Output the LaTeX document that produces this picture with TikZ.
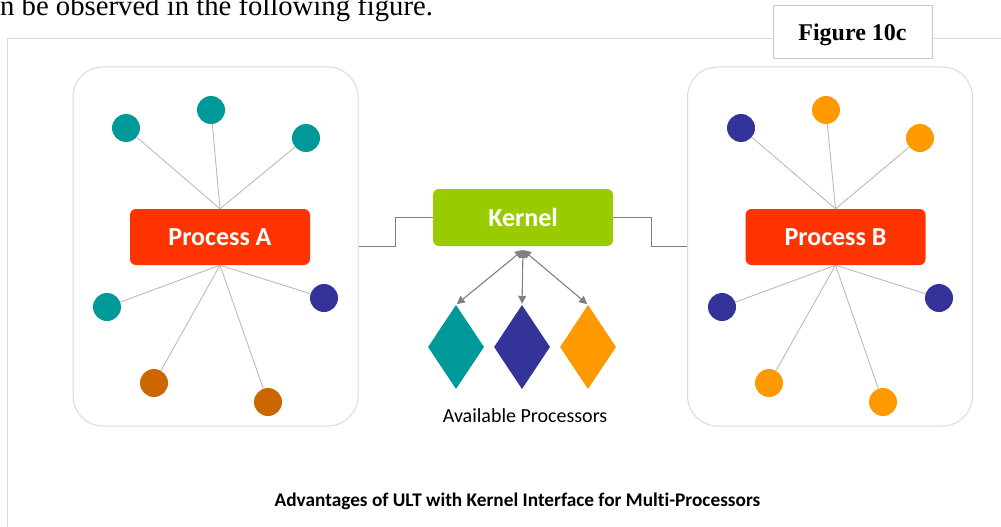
\documentclass[tikz,border=0pt]{standalone}
\usepackage{fontspec}
\setmainfont{Liberation Serif}
\newfontfamily\calib[Ligatures=NoCommon]{Carlito}
\usetikzlibrary{shapes.geometric,arrows.meta}
\definecolor{tealc}{HTML}{009999}
\definecolor{bluec}{HTML}{333399}
\definecolor{brownc}{HTML}{CC6600}
\definecolor{orangec}{HTML}{FF9900}
\definecolor{procred}{HTML}{FF3300}
\definecolor{kgreen}{HTML}{99CC00}
\definecolor{framegray}{HTML}{DADADA}
\definecolor{spokegray}{HTML}{BBBBBB}
\definecolor{linkgray}{HTML}{808080}
\tikzset{
  thread/.style={circle, inner sep=0pt, minimum size=28pt},
  spoke/.style={draw=spokegray, line width=0.9pt},
  container/.style={draw=framegray, line width=1pt, rounded corners=30pt, minimum width=285pt, minimum height=359pt},
  procbox/.style={fill=procred, rounded corners=6pt, minimum width=180pt, minimum height=56pt, text=white, font=\calib\fontsize{26}{30}\selectfont\bfseries},
  cpu/.style={diamond, inner sep=0pt, minimum width=56pt, minimum height=84pt},
  link/.style={draw=linkgray, line width=1.1pt},
  dispatch/.style={draw=linkgray, line width=1.1pt, {Triangle[length=8pt,width=8pt]}-{Triangle[length=8pt,width=8pt]}, color=linkgray}
}
\begin{document}
\begin{tikzpicture}[x=1pt,y=-1pt]
\useasboundingbox (0,0) rectangle (1001,527);
\clip (0,0) rectangle (1001,527);

% running text above the figure
\node[anchor=base west, inner sep=0pt, font=\fontsize{28.7}{32}\selectfont] (prose) at (0,16) {n be observed in the following figure.};

% frame and figure tag
\node[draw=framegray!80!gray, line width=1pt, minimum width=159pt, minimum height=53pt, inner sep=0pt] (tag) at (852.5,32.5) {};
\node[anchor=base, inner sep=0pt, font=\fontsize{24}{28}\selectfont\bfseries] (tagtext) at (852.5,41) {Figure 10c};
\coordinate (fbl) at (7,527);
\coordinate (ftl) at (7,39);
\coordinate (ftr) at (1001,39);
\draw[framegray, line width=1pt] (fbl) -- (ftl) -- (ftl -| tag.west);
\draw[framegray, line width=1pt] (ftl -| tag.east) -- (ftr);

% process containers
\node[container] (contA) at (215.5,246.5) {};
\node[container] (contB) at (830,246.5) {};

% processes
\node[procbox] (pa) at (220,237) {Process A};
\node[procbox] (pb) at (835.5,237) {Process B};

% kernel
\node[fill=kgreen, rounded corners=6pt, minimum width=180pt, minimum height=57pt, text=white,
      font=\calib\fontsize{26}{30}\selectfont\bfseries] (kern) at (523,217.5) {Kernel};

% links between processes and kernel
\draw[link] (contA.east) -- ++(37,0) |- (kern.west);
\draw[link] (kern.east) -- ++(38,0) |- (contB.west);

% user-level threads of process A
\node[thread, fill=tealc] (a1) at (126,128) {};
\node[thread, fill=tealc] (a2) at (211,110) {};
\node[thread, fill=tealc] (a3) at (306,138) {};
\node[thread, fill=tealc] (a4) at (107,307) {};
\node[thread, fill=bluec] (a5) at (324,298) {};
\node[thread, fill=brownc] (a6) at (154,383) {};
\node[thread, fill=brownc] (a7) at (268,402) {};
\foreach \t in {a1,a2,a3} \draw[spoke] (pa.north) -- (\t);
\foreach \t in {a4,a5,a6,a7} \draw[spoke] (pa.south) -- (\t);

% user-level threads of process B
\node[thread, fill=bluec] (b1) at (741,128) {};
\node[thread, fill=orangec] (b2) at (826,110) {};
\node[thread, fill=orangec] (b3) at (920,138) {};
\node[thread, fill=bluec] (b4) at (722,307) {};
\node[thread, fill=bluec] (b5) at (939,298) {};
\node[thread, fill=orangec] (b6) at (769,383) {};
\node[thread, fill=orangec] (b7) at (883,402) {};
\foreach \t in {b1,b2,b3} \draw[spoke] (pb.north) -- (\t);
\foreach \t in {b4,b5,b6,b7} \draw[spoke] (pb.south) -- (\t);

% processors
\node[cpu, fill=tealc] (c1) at (456,347) {};
\node[cpu, fill=bluec] (c2) at (522,347) {};
\node[cpu, fill=orangec] (c3) at (588,347) {};
\coordinate (hub) at (523,250);
\foreach \c in {c1,c2,c3} \draw[dispatch, shorten >=1pt] (hub) -- (\c.north);

\node[font=\calib\fontsize{20}{24}\selectfont, anchor=base] (avail) at (525,422) {Available Processors};

% caption
\node[font=\calib\fontsize{19.3}{23}\selectfont\bfseries, anchor=base] (cap) at (517.5,506) {Advantages of ULT with Kernel Interface for Multi-Processors};
\end{tikzpicture}
\end{document}
